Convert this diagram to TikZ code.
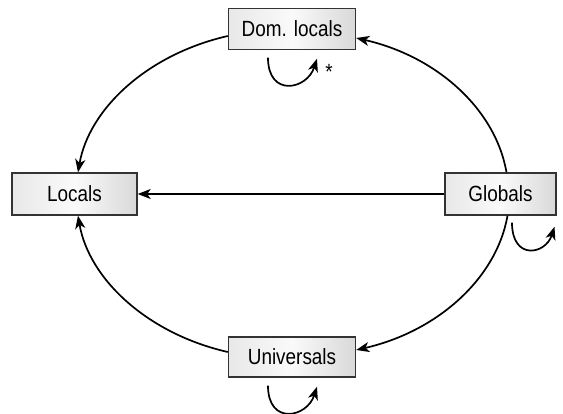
\documentclass[tikz,border=0pt]{standalone}
\usepackage{fontspec}
\setmainfont{Liberation Sans}[FakeStretch=0.86]
\usetikzlibrary{arrows.meta,calc}
\begin{document}
\begin{tikzpicture}[x=1pt,y=-1pt,
  box/.style={draw=black!80, line width=1.4pt, left color=black!9, right color=black!15, middle color=black!2, inner sep=0pt, font=\fontsize{22}{24}\selectfont},
  conn/.style={line width=1.7pt, -{Stealth[length=13pt,width=10pt,inset=3.5pt]}},
]
\useasboundingbox (0,0) rectangle (563,414);
\node[box, minimum width=127pt, minimum height=41pt] (dom) at (292,29) {Dom. locals};
\node[box, minimum width=125pt, minimum height=42pt] (loc) at (74.5,194) {Locals};
\node[box, minimum width=111pt, minimum height=42pt] (glob) at (500.5,194) {Globals};
\node[box, minimum width=127pt, minimum height=40pt] (uni) at (292,357) {Universals};
% ellipse arcs
\draw[conn] ([yshift=-7pt]dom.west) .. controls +(-81,18.5) and +(11,-63) .. ([xshift=3.5pt]loc.north);
\draw[conn] ([xshift=6pt]glob.north) .. controls +(-11,-63) and +(81,18.5) .. ([yshift=-9pt]dom.east);
\draw[conn] ([xshift=7pt]glob.south) .. controls +(-11,63) and +(81,-18.5) .. ([yshift=7pt]uni.east);
\draw[conn] ([yshift=5pt]uni.west) .. controls +(-81,-18.5) and +(11,63) .. ([xshift=3.5pt]loc.south);
% straight
\draw[conn] (glob.west) -- (loc.east);
% self loops
\draw[conn] ($(dom.south)+(-24,7.5)$) .. controls +(0,40) and +(-10,31) .. ($(dom.south)+(25,8.5)$);
\draw[conn] ($(glob.south)+(11.5,7)$) .. controls +(0,38) and +(-9,28) .. ($(glob.south)+(54,11)$);
\draw[conn] ($(uni.south)+(-24,8)$) .. controls +(0,40) and +(-10,31) .. ($(uni.south)+(25,9)$);
\node[font=\fontsize{22}{24}\selectfont, inner sep=0pt] (star) at (329,72) {*};
\end{tikzpicture}
\end{document}
